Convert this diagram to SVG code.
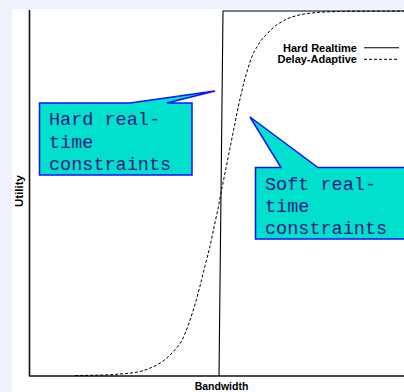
<svg xmlns="http://www.w3.org/2000/svg" width="404" height="392" viewBox="0 0 404 392">
<style>
.ax{stroke:#111;stroke-width:1.6;fill:none}
.hard{stroke:#000;stroke-width:1.1;fill:none}
.soft{stroke:#000;stroke-width:1;fill:none;stroke-dasharray:3 2}
.lbl{font-family:"Liberation Sans",Arial,sans-serif;font-weight:bold;fill:#000}
.co{fill:#00e0cc;stroke:#1010ff;stroke-width:1.5;stroke-linejoin:miter}
.ct{font-family:"Liberation Mono","DejaVu Sans Mono",monospace;font-size:18.5px;fill:#1a1a80}
</style>
<rect x="0" y="0" width="404" height="392" fill="#eff1fc"/>
<rect x="12" y="9" width="392" height="383" fill="#ffffff"/>
<g id="axes">
<line class="ax" x1="29.5" y1="10" x2="29.5" y2="376"/>
<line class="ax" x1="29" y1="376" x2="404" y2="376"/>
<text class="lbl" font-size="11.5" text-anchor="middle" transform="translate(22.5,191) rotate(-90)">Utility</text>
<text class="lbl" font-size="10.5" text-anchor="middle" x="221.5" y="390">Bandwidth</text>
</g>
<g id="connectors">
<path id="hard-realtime" class="hard" d="M219,376 L223,11 L404,11"/>
<path id="delay-adaptive" class="soft" d="M75,375.5 C95,375.3 110,375 120,374 C130,373.3 136,372.5 140,371.5 C148,369.5 150,368 155,366 C160,363.5 165,360 170,355 C174,351 177,348 181,342 C185,335 188,326 192,314 C195,305 198,294 200,286 C202,278 204,270 206,262 C209,251 211,242 213,232 C215,222 218,210 220,198 C222,188 224,178 226,168 C228,158 230,148 232,138 C234,128 236,118 238,108 C240,99 242,90 244,82 C246,75 248,68 250,62 C252,56 254,51 257,47 C259,43 262,39 265,36 C269,32 273,27 278,24 C283,21 287,18.5 292,17 C297,15.5 302,14 308,13.5 C314,12.8 319,12.2 325,12 C333,11.6 341,11.4 350,11.3 L404,11"/>
</g>
<g id="legend">
<text class="lbl" font-size="11" text-anchor="end" x="357" y="51.5">Hard Realtime</text>
<line class="hard" x1="364" y1="47.7" x2="399" y2="47.7"/>
<text class="lbl" font-size="11" text-anchor="end" x="357" y="62.5">Delay-Adaptive</text>
<line class="soft" x1="364" y1="59.3" x2="399" y2="59.3"/>
</g>
<g id="hard-callout">
<path class="co" d="M39.5,103 H130 L215,91 L167,103 H192 V175 H39.5 Z"/>
<text class="ct" x="49" y="125">Hard real-</text>
<text class="ct" x="49" y="147.5">time</text>
<text class="ct" x="49" y="170">constraints</text>
</g>
<g id="soft-callout">
<path class="co" d="M255.5,167.5 H281 L250,117 L318,167.5 H412 V239 H255.5 Z"/>
<text class="ct" x="265" y="189.5">Soft real-</text>
<text class="ct" x="265" y="212">time</text>
<text class="ct" x="265" y="234">constraints</text>
</g>
</svg>
